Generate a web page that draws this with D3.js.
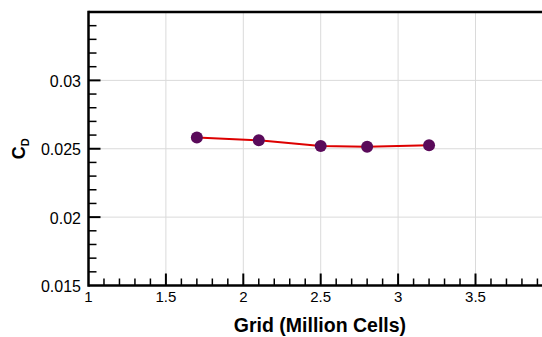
<!DOCTYPE html>
<html>
<head>
<meta charset="utf-8">
<script src="https://cdn.jsdelivr.net/npm/d3@7"></script>
<style>
  body { margin: 0; background: #fff; }
  svg { display: block; font-family: "Liberation Sans", Arial, sans-serif; }
</style>
</head>
<body>
<svg id="chart" width="542" height="337"></svg>
<script>
// data
const gridSizes = [1.7, 2.1, 2.5, 2.8, 3.2];
const dragCoeff = [0.02583, 0.02562, 0.02520, 0.02515, 0.02525];
const xTickValues = [1, 1.5, 2, 2.5, 3, 3.5];
const yTickValues = [0.015, 0.02, 0.025, 0.03];

const W = 542, H = 337;
const plotLeft = 88.5, plotTop = 12, plotBottom = 285.5;

const svg = d3.select("#chart");

const x = d3.scaleLinear().domain([1, 4]).range([plotLeft, plotLeft + 3 * 154.8]);
const y = d3.scaleLinear().domain([0.015, 0.035]).range([plotBottom, plotTop]);

// gridlines
const grid = svg.append("g").attr("stroke", "#dadada").attr("stroke-width", 1);
grid.selectAll("line.gx")
  .data(xTickValues.slice(1))
  .enter().append("line")
  .attr("x1", d => x(d)).attr("x2", d => x(d))
  .attr("y1", plotTop).attr("y2", plotBottom);
grid.selectAll("line.gy")
  .data(yTickValues.slice(1))
  .enter().append("line")
  .attr("x1", plotLeft).attr("x2", W)
  .attr("y1", d => y(d)).attr("y2", d => y(d));

// minor ticks
const xMinor = d3.range(10, 40).map(d => d / 10).filter(d => Math.abs(d * 2 - Math.round(d * 2)) > 1e-6);
const yMinor = d3.range(15, 35).map(d => d / 1000).filter(d => Math.abs(d * 200 - Math.round(d * 200)) > 1e-6);

const ticks = svg.append("g").attr("stroke", "#000").attr("stroke-width", 1.5);
ticks.selectAll("line.xmin")
  .data(xMinor).enter().append("line")
  .attr("x1", d => x(d)).attr("x2", d => x(d))
  .attr("y1", plotBottom).attr("y2", plotBottom - 7);
ticks.selectAll("line.xmaj")
  .data(xTickValues.slice(1)).enter().append("line")
  .attr("stroke-width", 2)
  .attr("x1", d => x(d)).attr("x2", d => x(d))
  .attr("y1", plotBottom).attr("y2", plotBottom - 12);
ticks.selectAll("line.ymin")
  .data(yMinor).enter().append("line")
  .attr("y1", d => y(d)).attr("y2", d => y(d))
  .attr("x1", plotLeft).attr("x2", plotLeft + 8);
ticks.selectAll("line.ymaj")
  .data(yTickValues.slice(1)).enter().append("line")
  .attr("stroke-width", 2)
  .attr("y1", d => y(d)).attr("y2", d => y(d))
  .attr("x1", plotLeft).attr("x2", plotLeft + 12);

// frame
const frame = svg.append("g").attr("stroke", "#000").attr("stroke-width", 2.5).attr("fill", "none");
frame.append("line").attr("x1", plotLeft).attr("x2", W).attr("y1", plotTop).attr("y2", plotTop);
frame.append("line").attr("x1", plotLeft).attr("x2", W).attr("y1", plotBottom).attr("y2", plotBottom);
frame.append("line").attr("x1", plotLeft).attr("x2", plotLeft).attr("y1", plotTop - 1.2).attr("y2", plotBottom + 1.2);

// tick labels
svg.append("g").selectAll("text")
  .data(xTickValues).enter().append("text")
  .attr("x", d => x(d)).attr("y", plotBottom + 16.5)
  .attr("text-anchor", "middle")
  .attr("font-size", 15)
  .text(d => d3.format("~g")(d));

svg.append("g").selectAll("text")
  .data(yTickValues).enter().append("text")
  .attr("x", plotLeft - 7.5).attr("y", d => y(d) + 6.5)
  .attr("text-anchor", "end")
  .attr("font-size", 16)
  .text(d => d3.format("~g")(d));

// axis titles
svg.append("text")
  .attr("x", 320).attr("y", 332)
  .attr("text-anchor", "middle")
  .attr("font-size", 19.5).attr("font-weight", "bold")
  .text("Grid (Million Cells)");

const yt = svg.append("text")
  .attr("transform", `translate(25,${y(0.025)}) rotate(-90)`)
  .attr("text-anchor", "middle")
  .attr("font-size", 18).attr("font-weight", "bold");
yt.append("tspan").text("C");
yt.append("tspan").attr("font-size", 11).attr("dy", 4).text("D");

// series
const line = d3.line().x((d, i) => x(gridSizes[i])).y(d => y(d));
svg.append("path")
  .datum(dragCoeff)
  .attr("d", line)
  .attr("fill", "none")
  .attr("stroke", "#dd0000")
  .attr("stroke-width", 2);

svg.append("g").selectAll("circle")
  .data(dragCoeff).enter().append("circle")
  .attr("cx", (d, i) => x(gridSizes[i]))
  .attr("cy", d => y(d))
  .attr("r", 6)
  .attr("fill", "#5a0a5a");
</script>
</body>
</html>
